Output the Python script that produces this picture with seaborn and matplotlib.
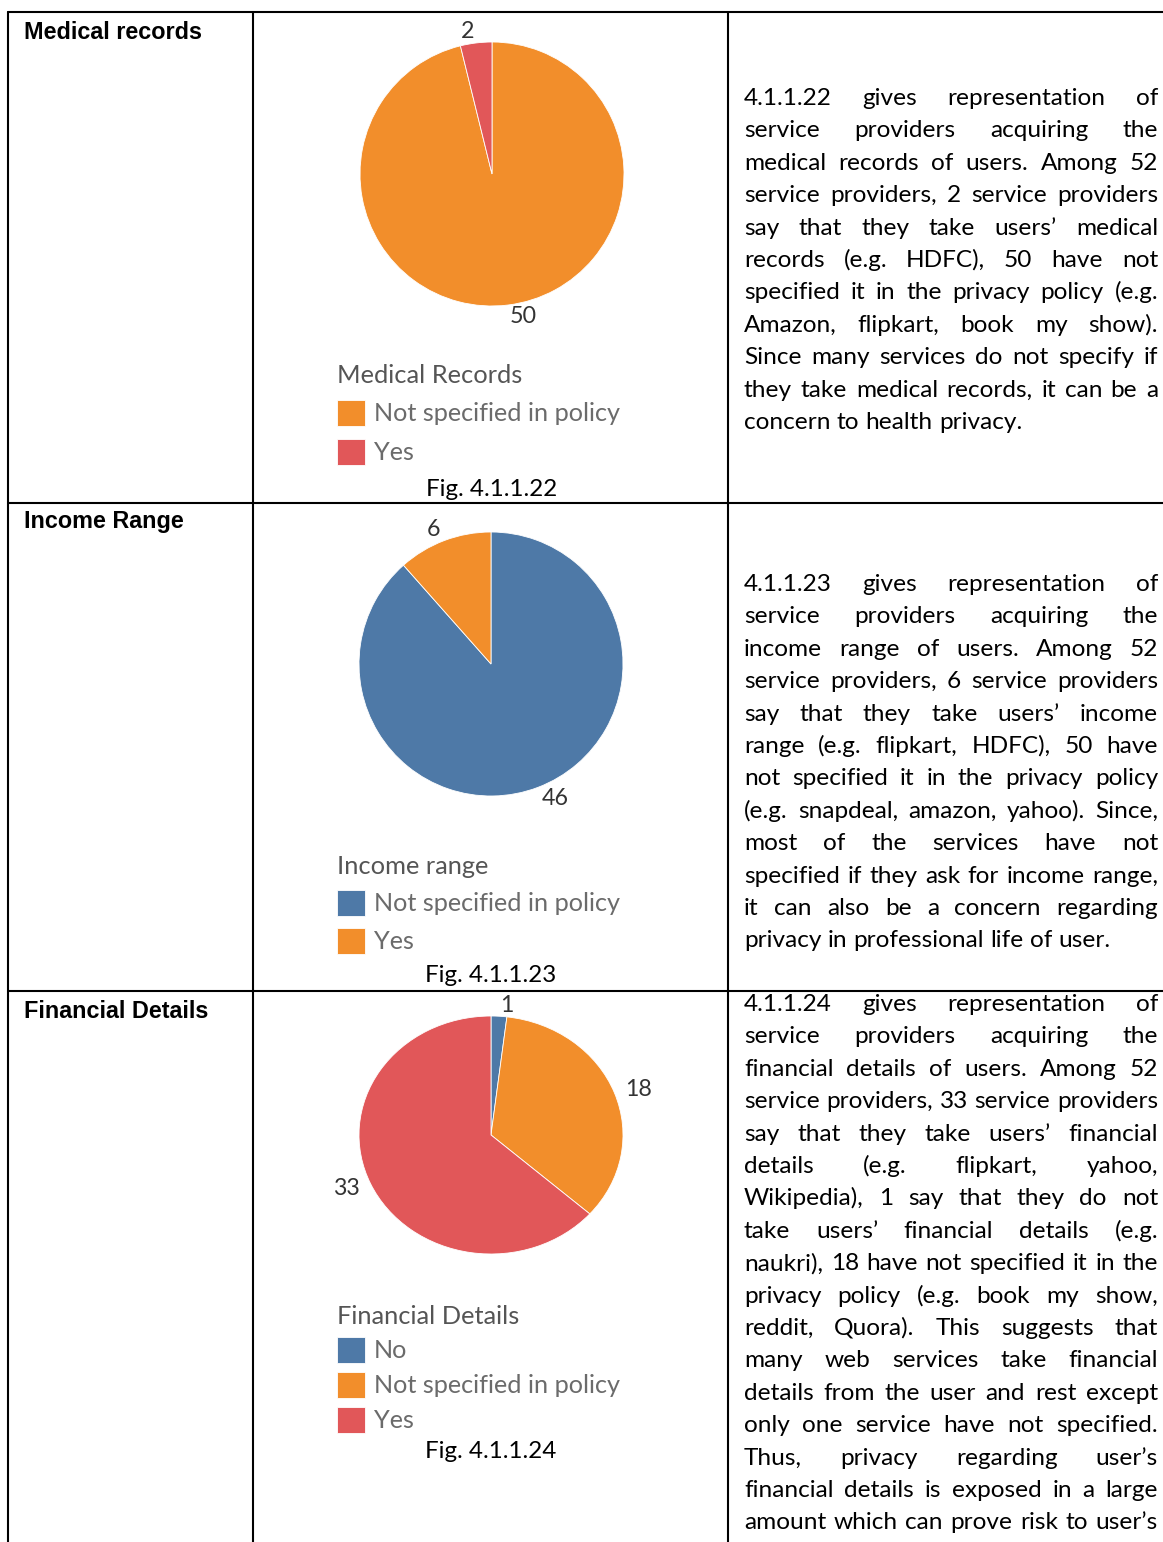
import numpy as np
import pandas as pd
import seaborn as sns
import matplotlib.pyplot as plt

W, H = 1163, 1542

# chart data
medical_cats = ["Not specified in policy", "Yes"]
medical_counts = [50, 2]
income_cats = ["Not specified in policy", "Yes"]
income_counts = [46, 6]
financial_cats = ["No", "Not specified in policy", "Yes"]
financial_counts = [1, 18, 33]

row_titles = ["Medical records", "Income Range", "Financial Details"]
legend_titles = ["Medical Records", "Income range", "Financial Details"]
captions = ["Fig. 4.1.1.22", "Fig. 4.1.1.23", "Fig. 4.1.1.24"]

medical_text = [
    "4.1.1.22 gives representation of",
    "service providers acquiring the",
    "medical records of users. Among 52",
    "service providers, 2 service providers",
    "say that they take users\u2019 medical",
    "records (e.g. HDFC), 50 have not",
    "specified it in the privacy policy (e.g.",
    "Amazon, flipkart, book my show).",
    "Since many services do not specify if",
    "they take medical records, it can be a",
    "concern to health privacy.",
]
income_text = [
    "4.1.1.23 gives representation of",
    "service providers acquiring the",
    "income range of users. Among 52",
    "service providers, 6 service providers",
    "say that they take users\u2019 income",
    "range (e.g. flipkart, HDFC), 50 have",
    "not specified it in the privacy policy",
    "(e.g. snapdeal, amazon, yahoo). Since,",
    "most of the services have not",
    "specified if they ask for income range,",
    "it can also be a concern regarding",
    "privacy in professional life of user.",
]
financial_text = [
    "4.1.1.24 gives representation of",
    "service providers acquiring the",
    "financial details of users. Among 52",
    "service providers, 33 service providers",
    "say that they take users\u2019 financial",
    "details (e.g. flipkart, yahoo,",
    "Wikipedia), 1 say that they do not",
    "take users\u2019 financial details (e.g.",
    "naukri), 18 have not specified it in the",
    "privacy policy (e.g. book my show,",
    "reddit, Quora). This suggests that",
    "many web services take financial",
    "details from the user and rest except",
    "only one service have not specified.",
    "Thus, privacy regarding user\u2019s",
    "financial details is exposed in a large",
    "amount which can prove risk to user\u2019s",
]

sns.set_style("white")
blue, orange, red = sns.color_palette(["#4e79a7", "#f28e2b", "#e15759"])

fig = plt.figure(figsize=(W / 100, H / 100), dpi=100)
bg = fig.add_axes([0, 0, 1, 1])
bg.set_xlim(0, W)
bg.set_ylim(H, 0)
bg.axis("off")
renderer = fig.canvas.get_renderer()
PX = 100 / 72  # pixels per point


def text_width(s, size, **kw):
    t = bg.text(0, 0, s, fontsize=size, **kw)
    w = t.get_window_extent(renderer).width
    t.remove()
    return w


def fit_size(s, target, **kw):
    return 10 * target / text_width(s, 10, **kw)


# table grid
lw = 1.5
bg.plot([8, W], [12, 12], color="black", lw=lw)
for y in (503, 991):
    bg.plot([8, W], [y, y], color="black", lw=lw)
for x in (8, 253, 728):
    bg.plot([x, x], [12, H], color="black", lw=lw)

# row titles
title_size = fit_size("Medical records", 178, family="Liberation Sans", weight="bold")
for title, y in zip(row_titles, (39, 528, 1018)):
    bg.text(24, y, title, family="Liberation Sans", weight="bold",
            fontsize=title_size, va="baseline", color="black")

# justified paragraphs
body_font = "Lato"
x0, x1 = 744, 1158
all_lines = medical_text[:-1] + income_text[:-1] + financial_text
widest = max(text_width(l, 10, family=body_font) for l in all_lines)
body_size = 10 * (x1 - x0) * 0.995 / widest


def justified(lines, y0, justify_last=False, dy=32.4):
    space = text_width("a a", body_size, family=body_font) - text_width("aa", body_size, family=body_font)
    for i, line in enumerate(lines):
        y = y0 + i * dy
        words = line.split()
        items = [bg.text(0, y, w, family=body_font, fontsize=body_size,
                         va="baseline", color="black") for w in words]
        widths = [t.get_window_extent(renderer).width for t in items]
        last = i == len(lines) - 1 and not justify_last
        gap = space if (last or len(words) < 2) else (x1 - x0 - sum(widths)) / (len(words) - 1)
        x = x0
        for t, w in zip(items, widths):
            t.set_x(x)
            x += w + gap


justified(medical_text, 105)
justified(income_text, 591)
justified(financial_text, 1011, justify_last=True)

# pies
lab_size = fit_size("50", 27, family="Lato")
leg_size = fit_size("Not specified in policy", 247, family="Lato")
legt_size = fit_size("Medical Records", 185, family="Lato")
cap_size = fit_size("Fig. 4.1.1.24", 131, family=body_font)

charts = [
    (medical_counts, medical_cats, [orange, red], (492, 174, 132, 132), 364, 40, 496),
    (income_counts, income_cats, [blue, orange], (491, 664, 132, 132), 855, 39, 982),
    (financial_counts, financial_cats, [blue, orange, red], (491, 1135, 132, 119), 1305, 36, 1458),
]

fpx = leg_size * PX
for k, (counts, cats, cols, (cx, cy, rx, ry), leg_top, pitch, cap_y) in enumerate(charts):
    ax = fig.add_axes([(cx - rx) / W, 1 - (cy + ry) / H, 2 * rx / W, 2 * ry / H])
    wedges, labels = ax.pie(counts, labels=[str(c) for c in counts], colors=cols,
                            startangle=90, counterclock=False, labeldistance=1.09,
                            wedgeprops=dict(edgecolor="white", linewidth=0.6),
                            textprops=dict(color="#333333", fontsize=lab_size, family="Lato"))
    ax.set_aspect("auto")
    ax.set_xlim(-1, 1)
    ax.set_ylim(-1, 1)
    hh = (26 / fpx - 0.245) / 0.65
    leg = ax.legend(wedges, cats, title=legend_titles[k], loc="upper left",
                    bbox_to_anchor=(337, leg_top), bbox_transform=bg.transData,
                    frameon=False, borderpad=0, borderaxespad=0,
                    handlelength=28 / fpx, handleheight=hh, handletextpad=0.35,
                    labelspacing=(pitch - 27) / fpx, alignment="left",
                    prop=dict(family="Lato", size=leg_size), labelcolor="#6b6b6b",
                    title_fontproperties=dict(family="Lato", size=legt_size))
    leg.get_title().set_color("#555555")
    bg.text(cx, cap_y, captions[k], ha="center", va="baseline",
            family=body_font, fontsize=cap_size, color="black")

fig.savefig("out.png", dpi=100)
